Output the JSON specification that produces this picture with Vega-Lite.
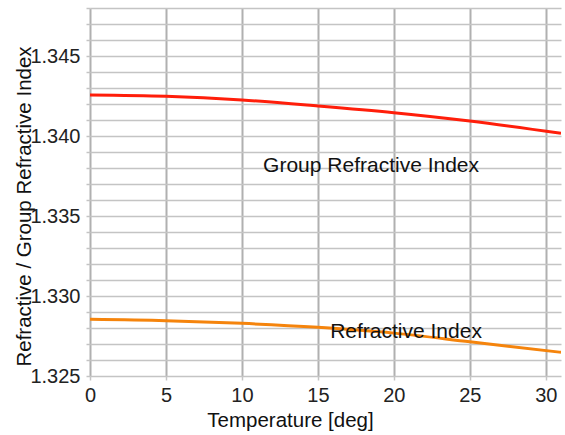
{
  "$schema": "https://vega.github.io/schema/vega-lite/v6.json",
  "width": 471,
  "height": 368,
  "autosize": "none",
  "padding": {"left": 90, "top": 8, "right": 4, "bottom": 59},
  "background": "white",
  "config": {
    "view": {"stroke": null},
    "font": "Liberation Sans",
    "axis": {
      "labelFont": "Liberation Sans",
      "titleFont": "Liberation Sans",
      "labelFontSize": 20,
      "titleFontSize": 20.5,
      "labelColor": "#222",
      "titleColor": "#111",
      "titleFontWeight": "normal",
      "domain": false,
      "gridColor": "#c4c4c4",
      "gridWidth": 1.5,
      "gridOpacity": 1,
      "tickColor": "#c4c4c4",
      "tickWidth": 1.5,
      "tickSize": 4,
      "labelOverlap": false
    }
  },
  "datasets": {
    "curves": [
      {"t": 0, "n": 1.34256, "series": "Group Refractive Index"},
      {"t": 5, "n": 1.34248, "series": "Group Refractive Index"},
      {"t": 10, "n": 1.34225, "series": "Group Refractive Index"},
      {"t": 15, "n": 1.34188, "series": "Group Refractive Index"},
      {"t": 20, "n": 1.34146, "series": "Group Refractive Index"},
      {"t": 25, "n": 1.34094, "series": "Group Refractive Index"},
      {"t": 31, "n": 1.34017, "series": "Group Refractive Index"},
      {"t": 0, "n": 1.32854, "series": "Refractive Index"},
      {"t": 5, "n": 1.32846, "series": "Refractive Index"},
      {"t": 10, "n": 1.32829, "series": "Refractive Index"},
      {"t": 15, "n": 1.32804, "series": "Refractive Index"},
      {"t": 20, "n": 1.32768, "series": "Refractive Index"},
      {"t": 25, "n": 1.32714, "series": "Refractive Index"},
      {"t": 31, "n": 1.32648, "series": "Refractive Index"}
    ],
    "labels": [
      {"t": 18.5, "n": 1.33811, "text": "Group Refractive Index"},
      {"t": 20.8, "n": 1.32775, "text": "Refractive Index"}
    ]
  },
  "layer": [
    {
      "data": {"name": "curves"},
      "mark": {"type": "line", "strokeWidth": 3, "interpolate": "monotone", "clip": true},
      "encoding": {
        "x": {
          "field": "t", "type": "quantitative",
          "scale": {"domain": [0, 31], "nice": false, "zero": false},
          "axis": {
            "values": [0, 5, 10, 15, 20, 25, 30],
            "tickCount": 7,
            "title": "Temperature [deg]",
            "labelPadding": 5,
            "titlePadding": 5,
            "titleX": 200,
            "titleAnchor": null,
            "titleAlign": "center",
            "labelFlush": false,
            "gridColor": "#b0b0b0",
            "gridWidth": 2
          }
        },
        "y": {
          "field": "n", "type": "quantitative",
          "scale": {"domain": [1.325, 1.348], "nice": false, "zero": false},
          "axis": {
            "values": [1.325, 1.326, 1.327, 1.328, 1.329, 1.33, 1.331, 1.332, 1.333, 1.334, 1.335, 1.336, 1.337, 1.338, 1.339, 1.34, 1.341, 1.342, 1.343, 1.344, 1.345, 1.346, 1.347, 1.348],
            "tickCount": 30,
            "labelExpr": "round(datum.value * 1000) % 5 == 0 ? format(datum.value, '.3f') : ''",
            "title": "Refractive / Group Refractive Index",
            "labelPadding": 6,
            "titlePadding": -5,
            "titleY": 198,
            "labelFlush": false
          }
        },
        "color": {
          "field": "series", "type": "nominal",
          "scale": {"domain": ["Group Refractive Index", "Refractive Index"], "range": ["#ff1e0a", "#f5840c"]},
          "legend": null
        }
      }
    },
    {
      "data": {"name": "labels"},
      "mark": {"type": "text", "fontSize": 21, "font": "Liberation Sans", "color": "#111", "align": "center", "baseline": "middle"},
      "encoding": {
        "x": {"field": "t", "type": "quantitative"},
        "y": {"field": "n", "type": "quantitative"},
        "text": {"field": "text"}
      }
    }
  ]
}
